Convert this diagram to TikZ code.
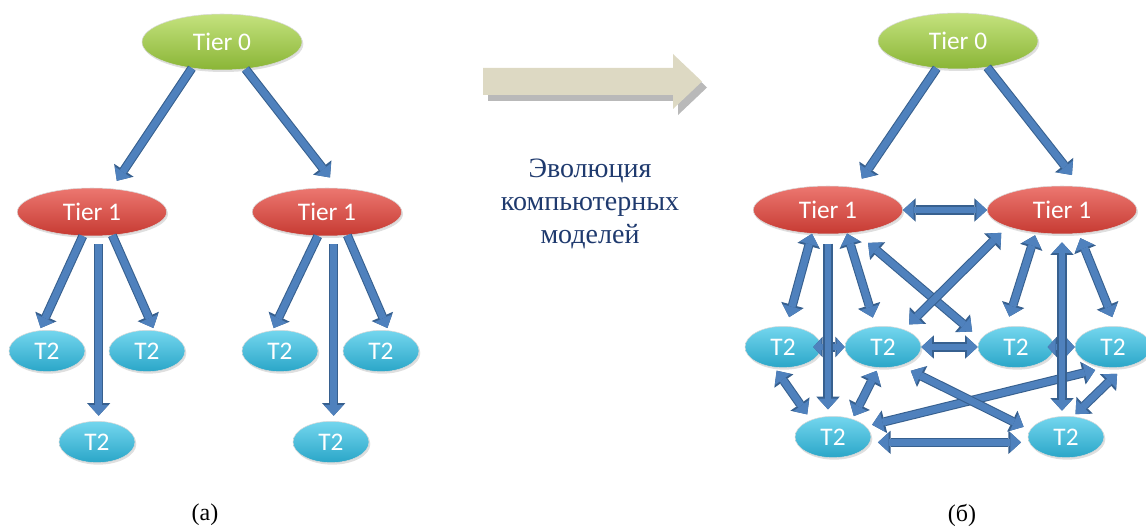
\documentclass[tikz,border=0pt]{standalone}
\usepackage{fontspec}
\setmainfont{Liberation Serif}
\newfontfamily\tierfont{Carlito}
\usetikzlibrary{arrows.meta, shapes.geometric, shadows}

\definecolor{greentop}{HTML}{C4E27E}
\definecolor{greenbot}{HTML}{8AB536}
\definecolor{redtop}{HTML}{EC7770}
\definecolor{redbot}{HTML}{C63A32}
\definecolor{cyantop}{HTML}{74D6EE}
\definecolor{cyanbot}{HTML}{2AA6C8}
\definecolor{arrowfill}{HTML}{4F81BD}
\definecolor{arrowline}{HTML}{37608F}
\definecolor{evofill}{HTML}{DDD9C3}
\definecolor{evotextcol}{HTML}{1F3A6E}

\begin{document}
\begin{tikzpicture}[
  x=0.75pt, y=-0.75pt,
  tipin/.tip={Triangle[length=8pt,width=14.5pt,line width=0pt]},
  tipout/.tip={Triangle[length=9.5pt,width=17.5pt,line width=0pt]},
  tipsin/.tip={Triangle[length=6pt,width=13pt,line width=0pt]},
  tipsout/.tip={Triangle[length=7pt,width=15.5pt,line width=0pt]},
  oneway/.style={line width=5.2pt, draw=arrowfill, -{tipin},
    preaction={draw=arrowline, line width=6.8pt, -{tipout}}},
  twoway/.style={line width=5.2pt, draw=arrowfill, {tipin}-{tipin},
    preaction={draw=arrowline, line width=6.8pt, {tipout}-{tipout}}},
  shortway/.style={line width=5.2pt, draw=arrowfill, {tipsin}-{tipsin},
    preaction={draw=arrowline, line width=6.8pt, {tipsout}-{tipsout}}},
  tier/.style={ellipse, inner sep=0pt, text=white, draw=black!15,
    font=\tierfont\fontsize{19}{21}\selectfont,
    drop shadow={opacity=0.25, shadow xshift=1pt, shadow yshift=-1.5pt}},
  tier0/.style={tier, minimum width=120pt, minimum height=42pt,
    top color=greentop, bottom color=greenbot},
  tier1/.style={tier, minimum width=112pt, minimum height=36pt,
    top color=redtop, bottom color=redbot},
  tier2/.style={tier, minimum width=57pt, minimum height=31pt,
    top color=cyantop, bottom color=cyanbot},
  evotext/.style={align=center, text=evotextcol,
    font=\fontsize{21}{25}\selectfont},
  caption/.style={font=\fontsize{18}{22}\selectfont}
]
\useasboundingbox (0,0) rectangle (1146,528);

% Left: hierarchy
\node[tier0] (L0) at (222,42) {Tier 0};
\node[tier1] (L1a) at (92,212) {Tier 1};
\node[tier1] (L1b) at (327,212) {Tier 1};
\node[tier2] (L2a) at (47,351) {T2};
\node[tier2] (L2b) at (147,351) {T2};
\node[tier2] (L2c) at (97,442) {T2};
\node[tier2] (L2d) at (280,351) {T2};
\node[tier2] (L2e) at (381,351) {T2};
\node[tier2] (L2f) at (331,442) {T2};

\draw[oneway, shorten >=7pt] (L0.221) -- (L1a.50);
\draw[oneway, shorten >=10pt] (L0.311) -- (L1b.65);

\draw[oneway, shorten >=2pt] (L1a.249) -- (L2a.110);
\draw[oneway, shorten >=2pt] (L1a.311) -- (L2b.70);
\coordinate (L1a-v) at ([xshift=5pt,yshift=-6pt]L1a.south);
\draw[oneway, shorten >=4pt] (L1a-v) -- (L1a-v |- L2c.north);

\draw[oneway, shorten >=2pt] (L1b.249) -- (L2d.110);
\draw[oneway, shorten >=2pt] (L1b.311) -- (L2e.70);
\coordinate (L1b-v) at ([xshift=5pt,yshift=-6pt]L1b.south);
\draw[oneway, shorten >=4pt] (L1b-v) -- (L1b-v |- L2f.north);

% Middle: evolution arrow
\fill[gray!55, shift={(5,6)}] (483,68) -- (673,68) -- (673,54) -- (702,81.5)
  -- (673,109) -- (673,95) -- (483,95) -- cycle;
\fill[evofill] (483,68) -- (673,68) -- (673,54) -- (702,81.5)
  -- (673,109) -- (673,95) -- (483,95) -- cycle;
\node[evotext] (evo) at (590,204) {Эволюция\\компьютерных\\моделей};

% Right: mesh
\node[tier0] (R0) at (958,41) {Tier 0};
\node[tier1] (R1a) at (828,210) {Tier 1};
\node[tier1] (R1b) at (1062,210) {Tier 1};
\node[tier2] (R2a) at (783,347) {T2};
\node[tier2] (R2b) at (883,347) {T2};
\node[tier2] (R2c) at (1016,347) {T2};
\node[tier2] (R2d) at (1113,347) {T2};
\node[tier2] (R2e) at (833,437) {T2};
\node[tier2] (R2f) at (1066,437) {T2};

\draw[oneway, shorten >=8pt] (R0.232) -- (R1a.39);
\draw[oneway, shorten >=11pt] (R0.318) -- (R1b.51);
\draw[twoway] (R1a) -- (R1b);

\draw[shortway, shorten <=-6pt] (R2a) -- (R2b);
\draw[twoway] (R2b) -- (R2c);
\draw[shortway, shorten <=-5pt] (R2c) -- (R2d);
\draw[twoway, shorten <=5pt, shorten >=5pt] ([yshift=-4pt]R2e.east) -- ([yshift=-4pt]R2f.west);

\draw[twoway, shorten <=7pt] (R2a.80) -- (R1a.236);
\draw[twoway, shorten <=7pt] (R2b.110) -- (R1a.309);
\draw[twoway, shorten <=12pt, shorten >=8.5pt] (R1a.321) -- (R2c.167);
\draw[twoway, shorten <=5.4pt, shorten >=6.6pt] (R2b.40) -- (R1b.197);
\draw[twoway, shorten <=8pt, shorten >=2pt] (R2c.116) -- (R1b.221);
\draw[twoway, shorten <=7.3pt, shorten >=3.6pt] (R2d.82) -- (R1b.305);

\draw[twoway, shorten <=3pt, shorten >=5pt] (R2a.247) -- (R2e.142);
\draw[twoway, shorten <=2.6pt, shorten >=2.4pt] (R2b.257) -- (R2e.43);
\draw[twoway, shorten <=4.8pt, shorten >=8pt] (R2e.18) -- (R2d.250);
\draw[twoway, shorten <=8.7pt, shorten >=5.3pt] (R2b.313) -- (R2f.169);
\draw[twoway, shorten <=2.5pt, shorten >=7.3pt] (R2f.71) -- (R2d.299);

\coordinate (R1a-v) at ([yshift=-7pt]R1a.south);
\draw[oneway, shorten >=5pt] (R1a-v) -- (R1a-v |- R2e.north);
\coordinate (R1b-v) at ([yshift=-6pt]R1b.south);
\draw[twoway, shorten >=4pt] (R1b-v) -- (R1b-v |- R2f.north);

% Captions
\node[caption] (capa) at (205,515) {(а)};
\node[caption] (capb) at (962,515) {(б)};

\end{tikzpicture}
\end{document}
